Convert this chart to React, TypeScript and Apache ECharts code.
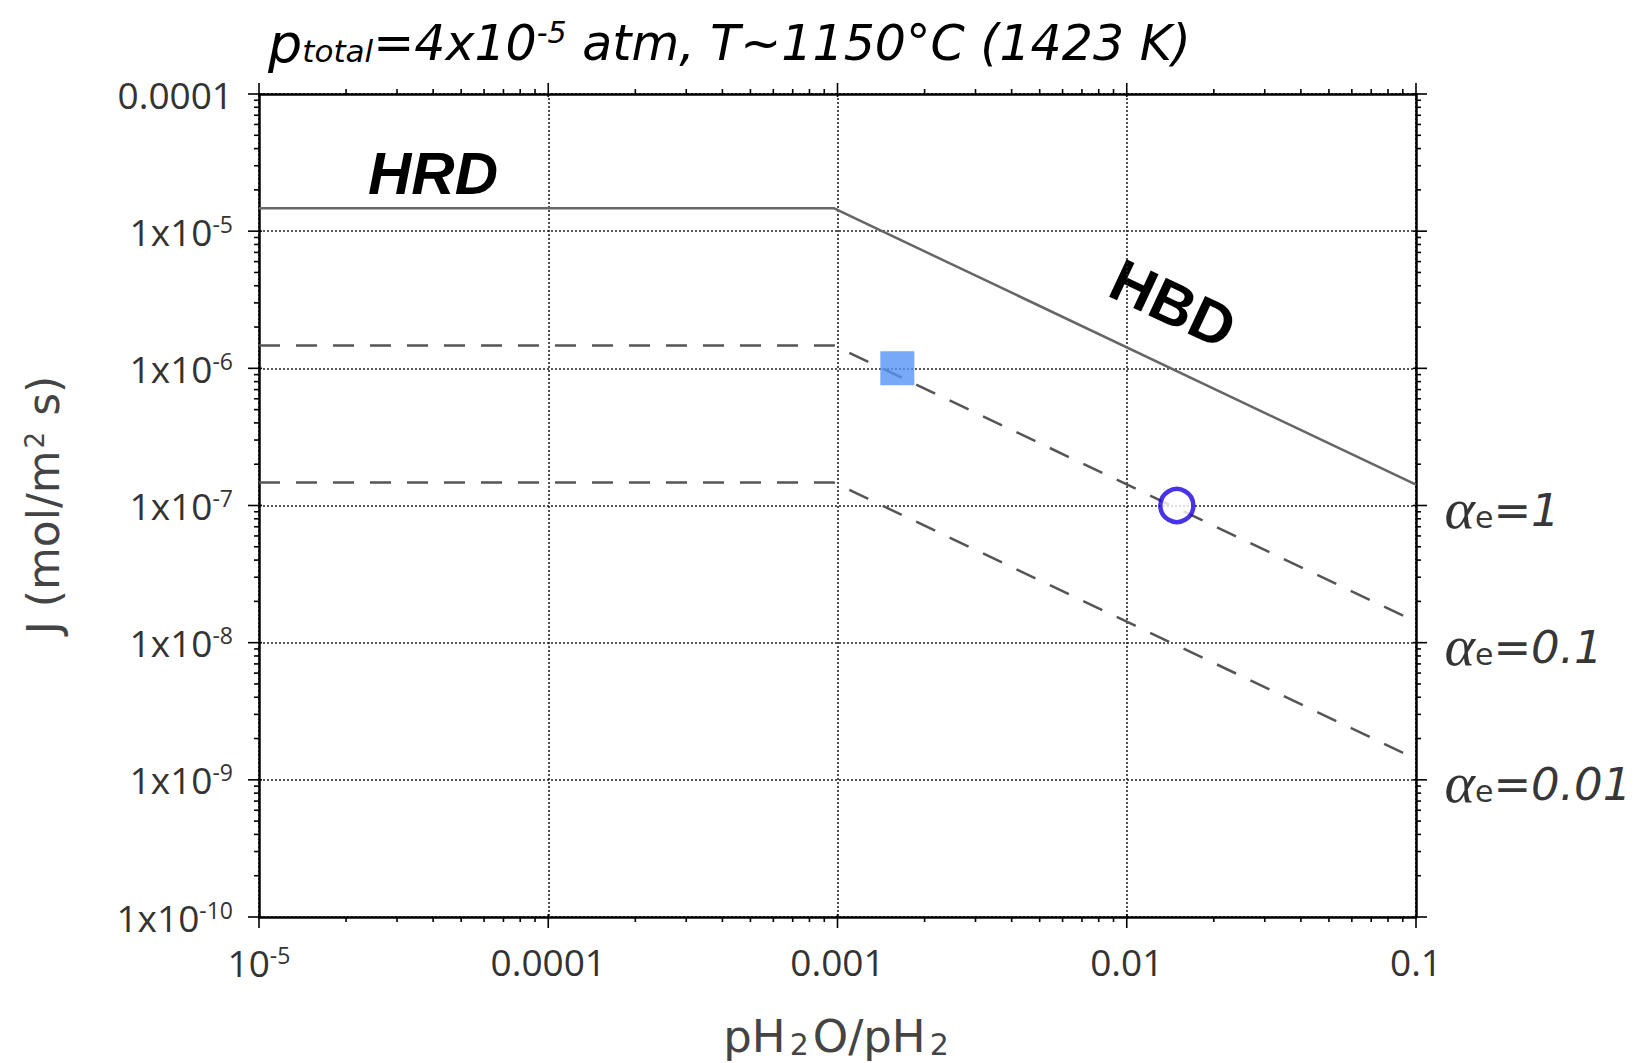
import React, { useEffect, useRef } from 'react';
import * as echarts from 'echarts';

// ---- axes ----
const xTickValues = [1e-5, 1e-4, 1e-3, 1e-2, 1e-1];
const xTickLabels = ['10{sup|-5}', '0.0001', '0.001', '0.01', '0.1'];
const yTickValues = [1e-10, 1e-9, 1e-8, 1e-7, 1e-6, 1e-5, 1e-4];
const yTickLabels = ['1x10{sup|-10}', '1x10{sup|-9}', '1x10{sup|-8}', '1x10{sup|-7}', '1x10{sup|-6}', '1x10{sup|-5}', '0.0001'];

// ---- series (pH2O/pH2 ratio vs J) ----
const ratioX = [1e-5, 9.7e-4, 0.1];
const hrdHbdJ = [1.47e-5, 1.47e-5, 1.42e-7];
const alpha1J = [1.47e-6, 1.47e-6, 1.42e-8];
const alpha01J = [1.47e-7, 1.47e-7, 1.42e-9];

// ---- measured points ----
const squarePoint = [1.61e-3, 1.0e-6];
const circlePoint = [1.49e-2, 1.0e-7];

// ---- alpha_e labels ----
const alphaValues = ['1', '0.1', '0.01'];
const alphaLabelJ = [1e-7, 1e-8, 1e-9];

const X_MIN = xTickValues[0];
const X_MAX = xTickValues[xTickValues.length - 1];
const Y_MIN = yTickValues[0];
const Y_MAX = yTickValues[yTickValues.length - 1];

const FONT = 'Open Sans';
const NAME_FONT = 'DejaVu Sans';
const LABEL_COLOR = '#333';

function labelFor(values: number[], labels: string[], v: number) {
  const i = values.findIndex((t) => Math.abs(Math.log10(t) - Math.log10(v)) < 1e-6);
  return i >= 0 ? labels[i] : '';
}

function minorTicks(majors: number[]) {
  const out: number[] = [];
  for (let i = 0; i < majors.length - 1; i++) {
    for (let k = 2; k <= 9; k++) out.push(majors[i] * k);
  }
  return out;
}

export default function App() {
  const ref = useRef<HTMLDivElement>(null);

  useEffect(() => {
    if (!ref.current) return;
    const chart = echarts.init(ref.current, null, { renderer: 'svg' });

    const tickData: number[][] = [];
    minorTicks(xTickValues).forEach((v) => tickData.push([v, Y_MIN, 0]));
    minorTicks(yTickValues).forEach((v) => tickData.push([X_MIN, v, 1]));
    xTickValues.forEach((v) => tickData.push([v, Y_MIN, 2]));
    yTickValues.forEach((v) => tickData.push([X_MIN, v, 3]));

    const supRich = {
      sup: { fontSize: 23, fontFamily: FONT, color: LABEL_COLOR, padding: [0, 0, 15, 0] },
    };

    const lineSeries = (data: number[], style: any, z: number) => ({
      type: 'line',
      data: ratioX.map((x, i) => [x, data[i]]),
      symbol: 'none',
      lineStyle: style,
      z,
      silent: true,
    });

    const titleStyle = { fontFamily: 'DejaVu Sans', fontStyle: 'italic', fill: '#000' };

    const option: any = {
      animation: false,
      backgroundColor: '#fff',
      grid: { left: 259, top: 94, right: 226, bottom: 146 },
      xAxis: [
        {
          type: 'log',
          logBase: 10,
          min: X_MIN,
          max: X_MAX,
          position: 'bottom',
          axisLine: { show: true, onZero: false, lineStyle: { color: '#000', width: 2.5 } },
          axisTick: { show: false },
          minorTick: { show: false },
          axisLabel: {
            show: true,
            margin: 26,
            fontFamily: FONT,
            fontSize: 37,
            color: LABEL_COLOR,
            formatter: (v: number) => labelFor(xTickValues, xTickLabels, v),
            rich: supRich,
          },
          splitLine: { show: true, lineStyle: { color: '#222', width: 1.6, type: [2, 2] } },
        },
        {
          type: 'log',
          logBase: 10,
          min: X_MIN,
          max: X_MAX,
          position: 'top',
          axisLine: { show: true, onZero: false, lineStyle: { color: '#000', width: 2.5 } },
          axisTick: { show: false },
          axisLabel: { show: false },
          splitLine: { show: false },
        },
      ],
      yAxis: [
        {
          type: 'log',
          logBase: 10,
          min: Y_MIN,
          max: Y_MAX,
          position: 'left',
          axisLine: { show: true, onZero: false, lineStyle: { color: '#000', width: 2.5 } },
          axisTick: { show: false },
          minorTick: { show: false },
          axisLabel: {
            show: true,
            margin: 26,
            fontFamily: FONT,
            fontSize: 37,
            color: LABEL_COLOR,
            formatter: (v: number) => labelFor(yTickValues, yTickLabels, v),
            rich: supRich,
          },
          splitLine: { show: true, lineStyle: { color: '#222', width: 1.6, type: [2, 2] } },
        },
        {
          type: 'log',
          logBase: 10,
          min: Y_MIN,
          max: Y_MAX,
          position: 'right',
          axisLine: { show: true, onZero: false, lineStyle: { color: '#000', width: 2.5 } },
          axisTick: { show: false },
          axisLabel: { show: false },
          splitLine: { show: false },
        },
      ],
      series: [
        lineSeries(hrdHbdJ, { color: '#666', width: 2.5 }, 3),
        lineSeries(alpha1J, { color: '#555', width: 2.5, type: [21, 16] }, 3),
        lineSeries(alpha01J, { color: '#555', width: 2.5, type: [21, 16] }, 3),
        {
          type: 'scatter',
          data: [squarePoint],
          symbol: 'rect',
          symbolSize: 34,
          itemStyle: { color: '#5594f6' },
          z: 6,
          silent: true,
        },
        {
          type: 'scatter',
          data: [circlePoint],
          symbol: 'circle',
          symbolSize: 33,
          itemStyle: { color: '#fff', borderColor: '#1a00e0', borderWidth: 4.5 },
          z: 6,
          silent: true,
        },
        {
          type: 'scatter',
          clip: false,
          silent: true,
          symbolSize: 1,
          itemStyle: { color: 'rgba(0,0,0,0)' },
          data: alphaValues.map((a, i) => ({ name: a, value: [X_MAX, alphaLabelJ[i]] })),
          label: {
            show: true,
            position: 'right',
            distance: 28,
            offset: [0, 5],
            formatter: (p: any) => `{a|α}{e|e}{t|=${p.name}}`,
            rich: {
              a: { fontFamily: 'Liberation Serif', fontStyle: 'italic', fontSize: 58, color: '#000', padding: [0, 0, 4, 0] },
              e: { fontFamily: 'DejaVu Sans', fontSize: 30, color: '#000', padding: [14, 0, 0, 0] },
              t: { fontFamily: 'DejaVu Sans', fontStyle: 'italic', fontSize: 45, color: '#000' },
            },
          },
          z: 6,
        },
        {
          type: 'custom',
          clip: false,
          silent: true,
          z: 7,
          data: tickData,
          renderItem: (params: any, api: any) => {
            const kind = api.value(2);
            const style = { stroke: '#000', lineWidth: 1.6 };
            if (kind === 0 || kind === 2) {
              const v = api.value(0);
              const b = api.coord([v, Y_MIN]);
              const t = api.coord([v, Y_MAX]);
              const out = kind === 2 ? 11 : 5;
              const inn = kind === 2 ? 3 : 0;
              return {
                type: 'group',
                children: [
                  { type: 'line', shape: { x1: b[0], y1: b[1] - inn, x2: b[0], y2: b[1] + out }, style },
                  { type: 'line', shape: { x1: t[0], y1: t[1] + inn, x2: t[0], y2: t[1] - out }, style },
                ],
              };
            }
            const v = api.value(1);
            const l = api.coord([X_MIN, v]);
            const r = api.coord([X_MAX, v]);
            const out = kind === 3 ? 11 : 5;
            const inn = kind === 3 ? 3 : 0;
            return {
              type: 'group',
              children: [
                { type: 'line', shape: { x1: l[0] + inn, y1: l[1], x2: l[0] - out, y2: l[1] }, style },
                { type: 'line', shape: { x1: r[0] - inn, y1: r[1], x2: r[0] + out, y2: r[1] }, style },
              ],
            };
          },
        },
      ],
      graphic: [
        {
          type: 'text',
          x: 268,
          y: 43,
          style: {
            text: '{p|p}{s|total}{t|=4x10}{u|-5}{t| atm, T~1150°C (1423 K)}',
            verticalAlign: 'middle',
            align: 'left',
            rich: {
              p: { ...titleStyle, fontSize: 54 },
              s: { ...titleStyle, fontSize: 31, padding: [16, 0, 0, 0] },
              t: { ...titleStyle, fontSize: 49 },
              u: { ...titleStyle, fontSize: 30, padding: [0, 0, 22, 0] },
            },
          },
        },
        {
          type: 'text',
          x: 433,
          y: 173,
          style: {
            text: 'HRD',
            fontFamily: 'Liberation Sans',
            fontWeight: 'bold',
            fontStyle: 'italic',
            fontSize: 60,
            fill: '#000',
            align: 'center',
            verticalAlign: 'middle',
          },
        },
        {
          type: 'text',
          x: 1173,
          y: 304,
          rotation: (-25 * Math.PI) / 180,
          style: {
            text: 'HBD',
            fontFamily: 'Liberation Sans',
            fontWeight: 'bold',
            fontSize: 60,
            fill: '#000',
            align: 'center',
            verticalAlign: 'middle',
          },
        },
        {
          type: 'text',
          x: 838,
          y: 1036,
          style: {
            text: 'pH{b|2}O/pH{b|2}',
            fontFamily: NAME_FONT,
            fontSize: 45,
            fill: '#444',
            align: 'center',
            verticalAlign: 'middle',
            rich: {
              b: { fontFamily: NAME_FONT, fontSize: 30, fill: '#444', padding: [16, 4, 0, 4] },
            },
          },
        },
        {
          type: 'text',
          x: 43,
          y: 505,
          rotation: Math.PI / 2,
          style: {
            text: 'J (mol/m{u|2} s)',
            fontFamily: NAME_FONT,
            fontSize: 44,
            fill: '#444',
            align: 'center',
            verticalAlign: 'middle',
            rich: {
              u: { fontFamily: NAME_FONT, fontSize: 26, fill: '#444', padding: [0, 2, 16, 2] },
            },
          },
        },
      ],
    };

    chart.setOption(option);
    return () => chart.dispose();
  }, []);

  return (
    <div
      ref={ref}
      style={{ position: 'absolute', left: 0, top: 0, width: 1642, height: 1063 }}
    />
  );
}
